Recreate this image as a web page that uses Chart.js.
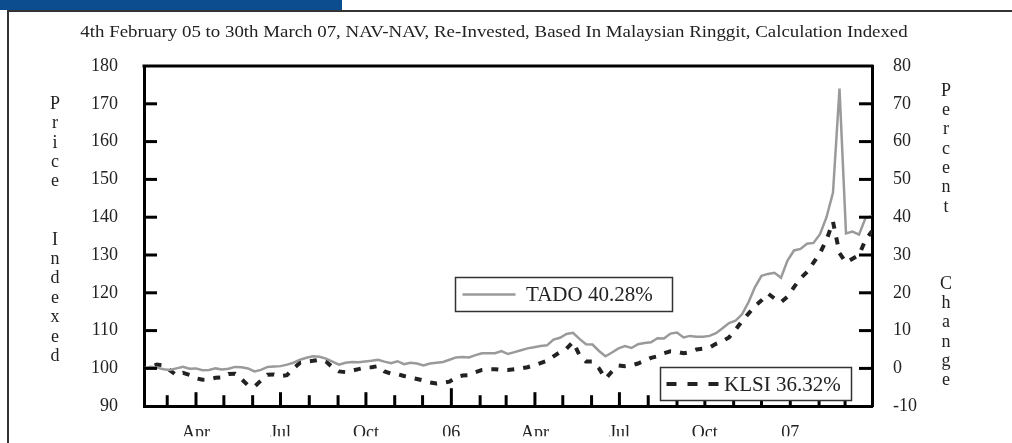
<!DOCTYPE html>
<html>
<head>
<meta charset="utf-8">
<script src="https://cdn.jsdelivr.net/npm/chart.js@4/dist/chart.umd.min.js"></script>
<style>
    html, body {margin: 0; padding: 0; background: #fff; overflow: hidden;}
    #wrap {position: relative; width: 1012px; height: 443px;}
    #bar {position: absolute; left: 0; top: 0; width: 342px; height: 10px; background: #0b4d8e;}
    #frame {position: absolute; left: 7px; top: 10px; width: 1100px; height: 500px;
        border-left: 2px solid #333; border-top: 2px solid #333;}
    canvas {position: absolute; left: 0; top: 0;}
</style>
</head>
<body>
<div id="wrap">
    <div id="bar"></div>
    <div id="frame"></div>
    <canvas id="chart" width="1012" height="443"></canvas>
</div>
<script>
'use strict';

// weekly values, first week 4th February 2005
const startDate = Date.UTC(2005, 1, 4);
const tado = [
    100.0, 100.4, 100.2, 99.8, 99.6, 100.0, 100.4, 99.9, 100.0, 99.5,
    99.6, 100.0, 99.7, 99.9, 100.4, 100.3, 100.0, 99.2, 99.6, 100.4,
    100.5, 100.6, 101.0, 101.5, 102.3, 102.8, 103.2, 103.1, 102.6, 101.8,
    101.0, 101.5, 101.7, 101.6, 101.8, 102.0, 102.3, 101.8, 101.4, 101.9,
    101.1, 101.5, 101.3, 100.8, 101.3, 101.5, 101.7, 102.3, 102.9, 103.0,
    102.9, 103.5, 104.0, 104.0, 104.0, 104.6, 103.8, 104.3, 104.8, 105.3,
    105.6, 105.9, 106.1, 107.6, 108.1, 109.1, 109.4, 107.8, 106.4, 106.3,
    104.6, 103.2, 104.2, 105.3, 105.9, 105.4, 106.4, 106.7, 106.9, 108.0,
    107.9, 109.2, 109.5, 108.2, 108.6, 108.4, 108.4, 108.6, 109.3, 110.6,
    112.0, 112.6, 114.3, 117.5, 121.5, 124.5, 125.0, 125.3, 124.0, 128.5,
    131.2, 131.6, 133.0, 133.2, 135.5, 140.0, 146.5, 174.0, 135.7, 136.2,
    135.4, 139.8, 140.28
];
const klsi = [
    100.0, 100.5, 101.0, 100.8, 99.5, 98.2, 98.8, 98.3, 97.4, 97.0,
    97.1, 97.5, 97.6, 98.5, 98.6, 97.2, 95.5, 95.2, 96.8, 98.3,
    98.4, 98.0, 98.2, 100.0, 101.5, 101.8, 102.0, 102.3, 101.8, 100.3,
    99.2, 99.0, 99.4, 99.8, 100.2, 100.3, 100.6, 99.2, 98.6, 98.5,
    98.0, 97.6, 97.2, 96.8, 96.3, 96.0, 96.2, 96.5, 97.6, 98.1,
    98.2, 99.0, 99.6, 99.8, 99.8, 99.6, 99.6, 99.8, 100.0, 100.3,
    100.8, 101.4, 102.0, 103.2, 104.3, 105.2, 107.0, 103.5, 101.8, 101.8,
    100.0, 97.3, 99.2, 100.8, 100.6, 100.8, 101.3, 102.0, 102.8, 103.2,
    104.0, 104.5, 104.4, 104.0, 104.3, 105.0, 105.2, 105.5, 106.5, 107.2,
    108.2, 110.2, 112.5, 114.5, 116.5, 118.0, 119.8, 118.5, 117.5, 119.0,
    121.5, 123.8, 125.5, 128.0, 130.5, 134.0, 138.8, 130.5, 128.0, 129.0,
    130.0, 134.0, 136.32
];
const seriesLabels = ['TADO 40.28%', 'KLSI 36.32%'];

const xTickMonths = ['2005-04', '2005-07', '2005-10', '2006-01', '2006-04', '2006-07', '2006-10', '2007-01'];
const xTickLabels = ['Apr', 'Jul', 'Oct', '06', 'Apr', 'Jul', 'Oct', '07'];
const firstMonth = '2005-03', lastMonth = '2007-03';

const titleText = '4th February 05 to 30th March 07, NAV-NAV, Re-Invested, Based In Malaysian Ringgit, Calculation Indexed';
const leftTitle = 'Price  Indexed';
const rightTitle = 'Percent   Change';

const FONT = "'Liberation Serif', 'Times New Roman', serif";
const WEEK = 7 * 864e5;

function weekOf(ym) {
    const [y, m] = ym.split('-').map(Number);
    return (Date.UTC(y, m - 1, 1) - startDate) / WEEK;
}

// every month start gets a tick, labelled ones are quarters / years
const monthTicks = [];
for (let [y, m] = firstMonth.split('-').map(Number); ; ) {
    const ym = y + '-' + String(m).padStart(2, '0');
    const i = xTickMonths.indexOf(ym);
    monthTicks.push({value: weekOf(ym), label: i >= 0 ? xTickLabels[i] : '', level: m === 1 ? 2 : (i >= 0 ? 1 : 0)});
    if (ym === lastMonth) break;
    m++;
    if (m > 12) { m = 1; y++; }
}

const decorations = {
    id: 'decorations',
    afterDatasetsDraw(chart) {
        const {ctx, chartArea: a, scales} = chart;
        ctx.save();
        ctx.strokeStyle = '#000';
        ctx.lineWidth = 3;
        const seg = (x1, y1, x2, y2) => { ctx.beginPath(); ctx.moveTo(x1, y1); ctx.lineTo(x2, y2); ctx.stroke(); };

        seg(a.left - 1.5, a.top, a.right + 1.5, a.top);

        scales.y.ticks.forEach(t => {
            if (t.value <= scales.y.min || t.value >= scales.y.max) return;
            const py = scales.y.getPixelForValue(t.value);
            seg(a.left, py, a.left + 13, py);
        });
        scales.y2.ticks.forEach(t => {
            if (t.value <= scales.y2.min || t.value >= scales.y2.max) return;
            const py = scales.y2.getPixelForValue(t.value);
            seg(a.right, py, a.right - 13, py);
        });
        monthTicks.forEach(t => {
            const px = scales.x.getPixelForValue(t.value);
            const len = [11, 14, 18][t.level];
            seg(px, a.bottom, px, a.bottom - len);
        });

        // legend boxes
        const ds = chart.data.datasets;
        const drawKey = (d, bx, by, bw, bh, s0, s1, tx) => {
            ctx.fillStyle = '#fff';
            ctx.fillRect(bx, by, bw, bh);
            ctx.strokeStyle = '#333';
            ctx.lineWidth = 1.5;
            ctx.setLineDash([]);
            ctx.strokeRect(bx, by, bw, bh);
            ctx.strokeStyle = d.borderColor;
            ctx.lineWidth = d.borderWidth;
            ctx.setLineDash(d.legendDash || []);
            ctx.lineDashOffset = 0;
            const my = by + bh / 2;
            seg(bx + s0, my, bx + s1, my);
            ctx.setLineDash([]);
            ctx.fillStyle = '#222';
            ctx.font = '21px ' + FONT;
            ctx.textAlign = 'left';
            ctx.textBaseline = 'middle';
            ctx.fillText(d.label, bx + tx, my + 1);
        };
        drawKey(ds[0], 455.5, 277.5, 217, 34, 7, 60, 70.5);
        drawKey(ds[1], 660.5, 367.5, 191, 33, 6, 58, 63.5);

        // title and stacked axis titles
        ctx.fillStyle = '#222';
        ctx.textAlign = 'center';
        ctx.textBaseline = 'middle';
        ctx.save();
        ctx.translate(494, 33);
        ctx.scale(1.11, 1);
        ctx.font = '17px ' + FONT;
        ctx.fillText(titleText, 0, 0);
        ctx.restore();
        ctx.font = '18px ' + FONT;
        [...leftTitle].forEach((c, i) => ctx.fillText(c, 55, 104 + i * 19.4));
        [...rightTitle].forEach((c, i) => ctx.fillText(c, 946, 91 + i * 19.3));
        ctx.restore();
    }
};

function buildChart(container) {
    const tickFont = {family: FONT, size: 18};
    return new Chart(container.getContext('2d'), {
        type: 'line',
        data: {
            datasets: [
                {
                    label: seriesLabels[0],
                    data: tado.map((v, i) => ({x: i, y: v})),
                    borderColor: '#9a9a9a',
                    borderWidth: 2.5,
                    pointRadius: 0,
                    yAxisID: 'y'
                },
                {
                    label: seriesLabels[1],
                    data: klsi.map((v, i) => ({x: i, y: v})),
                    borderColor: '#222',
                    borderWidth: 4,
                    borderDash: [7, 9],
                    borderDashOffset: 5,
                    legendDash: [10, 11],
                    borderCapStyle: 'butt',
                    pointRadius: 0,
                    yAxisID: 'y'
                }
            ]
        },
        options: {
            responsive: false,
            animation: false,
            layout: {padding: {top: 66, left: 0, right: 0, bottom: 0}},
            plugins: {legend: {display: false}, tooltip: {enabled: false}, title: {display: false}},
            scales: {
                x: {
                    type: 'linear',
                    min: 0,
                    max: tado.length - 1,
                    grid: {display: false, drawTicks: false},
                    border: {display: true, width: 3, color: '#000'},
                    afterBuildTicks: s => { s.ticks = monthTicks.map(t => ({value: t.value})); },
                    afterFit: s => { s.height = 30; },
                    ticks: {
                        autoSkip: false,
                        maxRotation: 0,
                        padding: 16,
                        color: '#222',
                        font: tickFont,
                        callback: (v, i) => monthTicks[i] ? monthTicks[i].label : ''
                    }
                },
                y: {
                    position: 'left',
                    min: 90,
                    max: 180,
                    grid: {display: false, drawTicks: false},
                    border: {display: true, width: 3, color: '#000'},
                    afterFit: s => { s.width = 144; },
                    ticks: {stepSize: 10, padding: 26, color: '#222', font: tickFont}
                },
                y2: {
                    position: 'right',
                    min: -10,
                    max: 80,
                    grid: {display: false, drawTicks: false},
                    border: {display: true, width: 3, color: '#000'},
                    afterFit: s => { s.width = 140; },
                    ticks: {stepSize: 10, padding: 21, color: '#222', font: tickFont}
                }
            }
        },
        plugins: [decorations]
    });
}

buildChart(document.getElementById('chart'));
</script>
</body>
</html>
